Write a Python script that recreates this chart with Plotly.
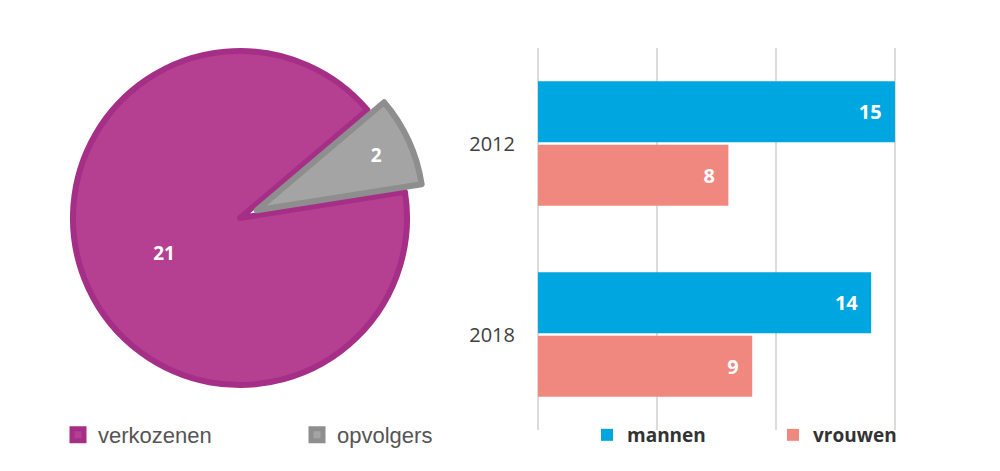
import plotly.graph_objects as go

# Pie data
pie_labels = ["verkozenen", "opvolgers"]
pie_values = [21, 2]
pie_colors = ["#b53f91", "#a4a4a4"]
pie_line_colors = ["#a52f87", "#8e8e8e"]
pie_pull = [0, 0.11]

# Bar data
years = ["2012", "2018"]
mannen = [15, 14]
vrouwen = [8, 9]

W, H, OFF = 984, 455, 8  # page has an 8px body margin


def fx(px):
    return (px - OFF) / W


def fy(py):
    return 1 - (py - OFF) / H


fig = go.Figure()

fig.add_trace(go.Pie(
    labels=pie_labels, values=pie_values, sort=False, direction="clockwise",
    rotation=81, pull=pie_pull,
    marker=dict(colors=pie_colors, line=dict(color=pie_line_colors, width=6)),
    textinfo="value", textposition="inside", insidetextorientation="horizontal",
    textfont=dict(family="Open Sans", size=19, color="white", weight="bold"),
    domain=dict(x=[fx(54.6), fx(425.4)], y=[fy(403.4), fy(32.6)]),
    legend="legend", showlegend=True, hoverinfo="label+value",
))

fig.add_trace(go.Bar(
    name="mannen", y=years, x=mannen, orientation="h",
    marker=dict(color="#00a6df", line=dict(width=0)),
    text=mannen, texttemplate="%{x}\u00a0\u00a0", textposition="inside",
    insidetextanchor="end",
    textfont=dict(family="Open Sans", size=20, color="white", weight="bold"),
    xaxis="x", yaxis="y", legend="legend2",
))
fig.add_trace(go.Bar(
    name="vrouwen", y=years, x=vrouwen, orientation="h",
    marker=dict(color="#f08880", line=dict(width=0)),
    text=vrouwen, texttemplate="%{x}\u00a0\u00a0", textposition="inside",
    insidetextanchor="end",
    textfont=dict(family="Open Sans", size=20, color="white", weight="bold"),
    xaxis="x", yaxis="y", legend="legend2",
))

fig.update_layout(
    width=W, height=H,
    margin=dict(l=0, r=0, t=0, b=0, autoexpand=False),
    paper_bgcolor="white", plot_bgcolor="white",
    barmode="group", bargap=0.335, bargroupgap=0.04,
    xaxis=dict(domain=[fx(538), fx(904.5)], range=[0, 15.4], dtick=5,
               showgrid=True, gridcolor="#dcdcdc", gridwidth=2,
               zeroline=True, zerolinecolor="#dcdcdc", zerolinewidth=2,
               showticklabels=False, showline=False, fixedrange=True),
    yaxis=dict(domain=[fy(430), fy(48)], autorange="reversed",
               type="category", showgrid=False, showline=False,
               ticklabelstandoff=22, automargin=False,
               tickfont=dict(family="Open Sans", size=20, color="#404040")),
    legend=dict(orientation="h", x=fx(58), xanchor="left", y=fy(435),
                yanchor="middle", entrywidth=194, entrywidthmode="pixels",
                font=dict(family="Liberation Sans, Arial", size=22, color="#555555"),
                bgcolor="rgba(0,0,0,0)", itemclick=False, itemdoubleclick=False),
    legend2=dict(orientation="h", x=fx(587), xanchor="left", y=fy(435),
                 yanchor="middle", entrywidth=141, entrywidthmode="pixels",
                 font=dict(family="Open Sans", size=19, color="#333333", weight="bold"),
                 bgcolor="rgba(0,0,0,0)", itemclick=False, itemdoubleclick=False),
)

fig.write_html("out.html")
